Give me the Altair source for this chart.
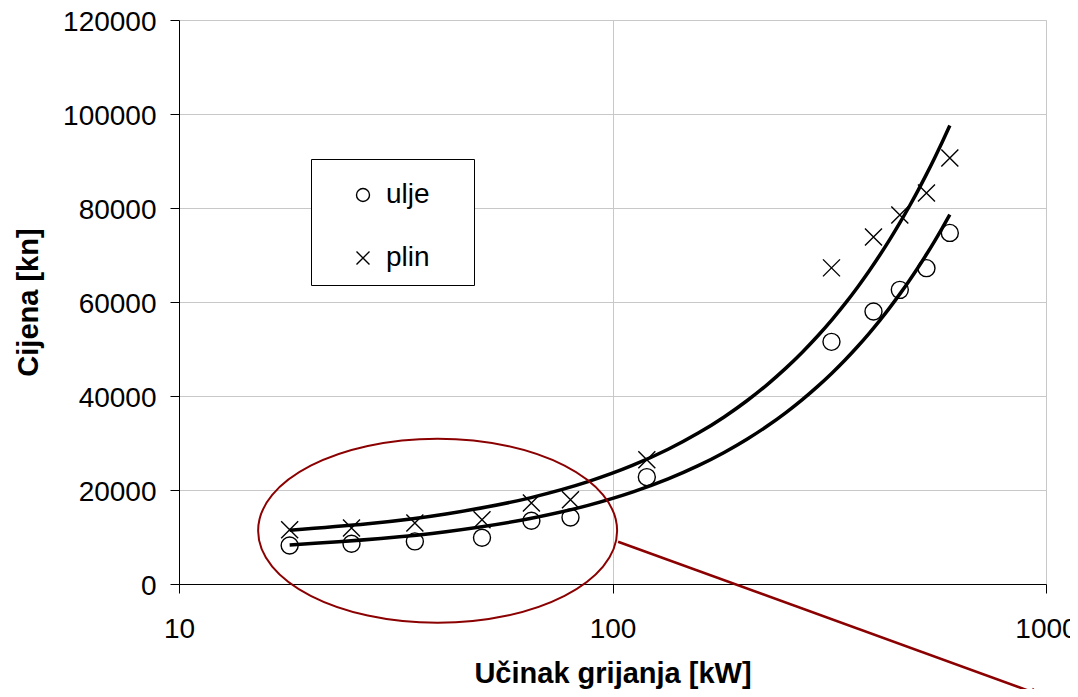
import altair as alt
import pandas as pd

# ---- data ----
ucinak_kw = [18, 25, 35, 50, 65, 80, 120, 320, 400, 460, 530, 600]
cijena_ulje = [8200, 8570, 9060, 9850, 13460, 14160, 22750, 51520, 57970, 62580, 67200, 74700]
cijena_plin = [11550, 11910, 12970, 13670, 17230, 17930, 26430, 67260, 73850, 78530, 83210, 90650]
serije = ["ulje", "plin"]
x_ticks = [10, 100, 1000]
y_ticks = [0, 20000, 40000, 60000, 80000, 100000, 120000]

# annotation (ellipse around the low-power region and arrow), in data units
ellipse_center_x = [39.5]
ellipse_center_y = [11330]
arrow_x = [103.0]
arrow_y = [9000]
arrow_x2 = [995.0]
arrow_y2 = [-23970]
head_x = [958.0]
head_y = [-23430]

FONT = "Liberation Sans"
RED = "#8b0000"
PAD_TAIL = "\u00a0" * 4 + "\u200b"   # widens the legend box (trim-proof)
X_SHAPE = "M-1,-1L1,1M-1,1L1,-1"
ELLIPSE = ("M-1,0C-1,-0.2831,-0.5523,-0.5125,0,-0.5125"
           "C0.5523,-0.5125,1,-0.2831,1,0"
           "C1,0.2831,0.5523,0.5125,0,0.5125"
           "C-0.5523,0.5125,-1,0.2831,-1,0Z")
HEAD = "M1,0L-1,-0.6L-1,0.6Z"

df = pd.DataFrame({
    "x": ucinak_kw + ucinak_kw,
    "y": cijena_ulje + cijena_plin,
    "kind": ["ulje"] * len(ucinak_kw) + ["plin"] * len(ucinak_kw),
})

x_enc = alt.X(
    "x:Q",
    scale=alt.Scale(type="log", domain=[10, 1000]),
    axis=alt.Axis(
        values=x_ticks, format="d", title="Učinak grijanja [kW]",
        titleFont=FONT, titleFontSize=29, titleFontWeight="bold", titleColor="black",
        titleY=98.5, titleBaseline="alphabetic",
        labelFont=FONT, labelFontSize=28, labelColor="black", labelPadding=22.6,
        labelFlush=False, labelOverlap=False,
        tickSize=9, tickColor="black", domainColor="black",
        gridColor="#c8c8c8",
    ),
)
y_enc = alt.Y(
    "y:Q",
    scale=alt.Scale(domain=[0, 120000]),
    axis=alt.Axis(
        values=y_ticks, format="d", title="Cijena [kn]",
        titleFont=FONT, titleFontSize=29, titleFontWeight="bold", titleColor="black",
        titleX=-141.5, titleY=282, titleAngle=270, titleBaseline="alphabetic",
        titleAlign="center",
        labelFont=FONT, labelFontSize=28, labelColor="black", labelPadding=14,
        labelOffset=2,
        tickSize=9, tickColor="black", domainColor="black",
        gridColor="#c8c8c8",
    ),
)

base = alt.Chart(df)

trend = base.transform_regression(
    "x", "y", groupby=["kind"], method="poly", order=1
).mark_line(color="black", strokeWidth=3.5, interpolate="monotone").encode(
    x=x_enc, y=y_enc, detail="kind:N"
)

points = base.mark_point(
    filled=False, size=289, strokeWidth=1.4, color="black", opacity=1
).encode(
    x=x_enc, y=y_enc,
    shape=alt.Shape(
        "kind:N",
        scale=alt.Scale(domain=serije, range=["circle", X_SHAPE]),
        legend=alt.Legend(
            title=" ", titleFontSize=4, titlePadding=5,
            orient="none", legendX=132, legendY=139, direction="vertical",
            strokeColor="black", fillColor="white", padding=13, rowPadding=35,
            symbolOffset=25, labelOffset=9, symbolSize=169, symbolStrokeWidth=1.4,
            symbolStrokeColor="black", symbolFillColor="transparent",
            labelFont=FONT, labelFontSize=28, labelColor="black",
            labelExpr="datum.label + '" + PAD_TAIL + "'",
        ),
    ),
)

ell_df = pd.DataFrame({"x": ellipse_center_x, "y": ellipse_center_y})
ellipse = alt.Chart(ell_df).mark_point(
    shape=ELLIPSE, size=128881, filled=False, stroke=RED, strokeWidth=2, opacity=1
).encode(x=x_enc, y=y_enc)

arr_df = pd.DataFrame({"x": arrow_x, "y": arrow_y, "x2": arrow_x2, "y2": arrow_y2})
arrow = alt.Chart(arr_df).mark_rule(color=RED, strokeWidth=2.5).encode(
    x=x_enc, y=y_enc, x2="x2:Q", y2="y2:Q"
)

head_df = pd.DataFrame({"x": head_x, "y": head_y})
head = alt.Chart(head_df).mark_point(
    shape=HEAD, size=196, filled=True, color=RED, angle=20, opacity=1
).encode(x=x_enc, y=y_enc)

chart = alt.layer(trend, points, ellipse, arrow, head).properties(
    width=867, height=564,
    autosize=alt.AutoSizeParams(type="none"),
    padding={"left": 171, "top": 12, "right": 24, "bottom": 105},
).configure_view(stroke="#999999", strokeWidth=1.2).configure(background="white")

chart.save("out.html", embed_options={"renderer": "svg", "actions": False})
